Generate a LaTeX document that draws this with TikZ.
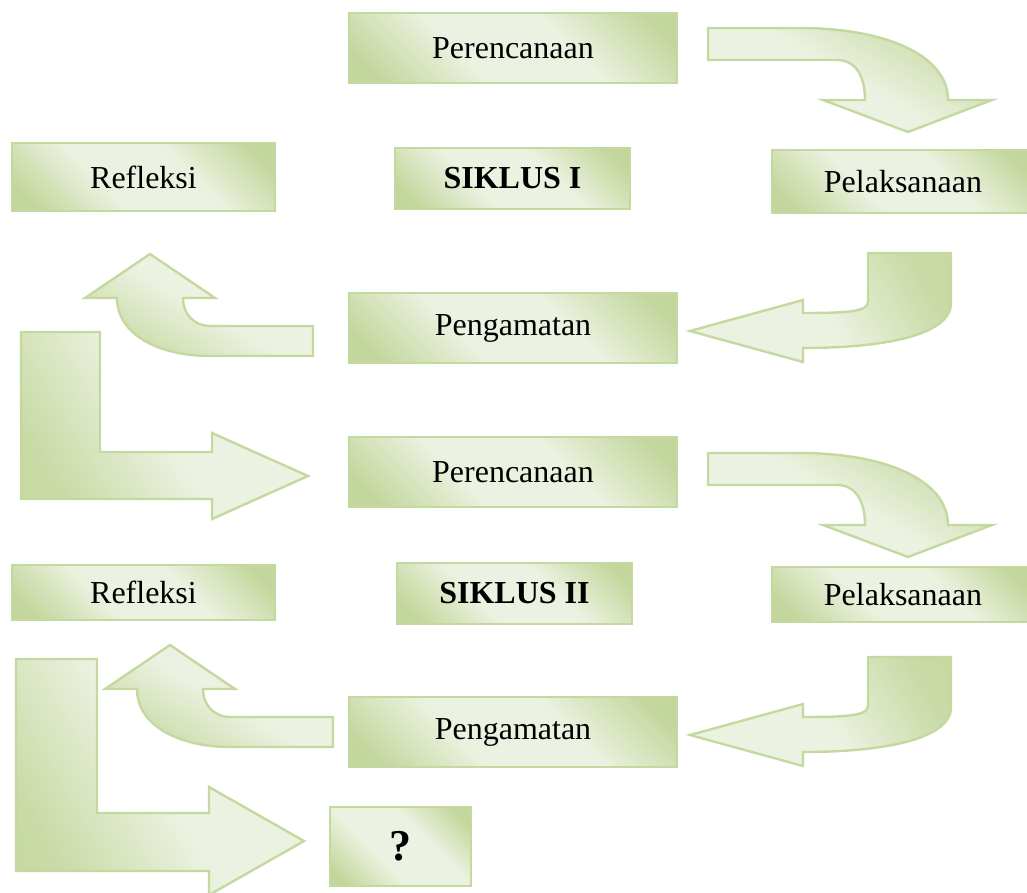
\documentclass[tikz,border=0pt]{standalone}
\usepackage{fontspec}
\setmainfont{Liberation Serif}
\definecolor{gL}{RGB}{236,242,225}
\definecolor{gD}{RGB}{195,214,155}
\definecolor{gB}{RGB}{196,217,160}
\pgfdeclarehorizontalshading{boxsh}{100bp}{color(0bp)=(gD); color(20bp)=(gD); color(40bp)=(gL); color(60bp)=(gL); color(80bp)=(gD); color(100bp)=(gD)}
\pgfdeclarehorizontalshading{arrsh}{100bp}{color(0bp)=(gD); color(25bp)=(gD!85!gL); color(50bp)=(gL); color(75bp)=(gL); color(100bp)=(gL)}
\tikzset{
  box/.style={draw=gB, line width=1.2pt, shading=boxsh, shading angle=45,
    inner sep=0pt, font=\fontsize{16}{19}\selectfont},
  blockarrow/.style={draw=gB, line width=1.2pt, shading=arrsh},
}
\begin{document}
\begin{tikzpicture}[x=0.5pt,y=-0.5pt]
\useasboundingbox (0,0) rectangle (1027,893);
% boxes
\node[box, minimum width={328*0.5pt}, minimum height={70*0.5pt}] (per1) at (513,48) {Perencanaan};
\node[box, minimum width={263*0.5pt}, minimum height={68*0.5pt}] (ref1) at (143.5,177) {Refleksi};
\node[box, minimum width={235*0.5pt}, minimum height={61*0.5pt}] (sik1) at (512.5,178.5) {\bfseries SIKLUS I};
\node[box, minimum width={262*0.5pt}, minimum height={63*0.5pt}] (pel1) at (903,181.5) {Pelaksanaan};
\node[box, minimum width={328*0.5pt}, minimum height={70*0.5pt}] (pen1) at (513,328) {Pengamatan};
\node[box, minimum width={328*0.5pt}, minimum height={70*0.5pt}] (per2) at (513,472) {Perencanaan};
\node[box, minimum width={263*0.5pt}, minimum height={55*0.5pt}] (ref2) at (143.5,592.5) {Refleksi};
\node[box, minimum width={235*0.5pt}, minimum height={61*0.5pt}] (sik2) at (514.5,593.5) {\bfseries SIKLUS II};
\node[box, minimum width={262*0.5pt}, minimum height={55*0.5pt}] (pel2) at (903,594.5) {Pelaksanaan};
\node[box, minimum width={328*0.5pt}, minimum height={70*0.5pt}] (pen2) at (513,732) {Pengamatan};
\node[box, minimum width={141*0.5pt}, minimum height={79*0.5pt}, font=\fontsize{22}{26}\selectfont\bfseries] (q) at (400.5,846.5) {?};
% curved arrow right-down (cycle I and II)
\foreach \dy in {0,425}{
\begin{scope}[shift={(0,\dy)}]
\shade[blockarrow, shading angle=-120] (708,28) -- (800,28) .. controls (885,28) and (948,55) .. (948,100)
  -- (992,100) -- (908,132) -- (823,100) -- (865,100)
  .. controls (865,75) and (855,60) .. (837,60) -- (708,60) -- cycle;
\end{scope}}
% hook arrow down-left
\foreach \dy in {0,404}{
\begin{scope}[shift={(0,\dy)}]
\shade[blockarrow, shading angle=-150] (868,253) -- (951,253) -- (951,303)
  .. controls (951,335) and (885,348) .. (803,348) -- (803,362) -- (690,331) -- (803,300) -- (803,313)
  .. controls (845,313) and (868,312) .. (868,302) -- cycle;
\end{scope}}
% curved arrow left-up
\shade[blockarrow, shading angle=60] (313,326) -- (210,326) .. controls (195,326) and (183,315) .. (183,298)
  -- (215,298) -- (150,254) -- (85,298) -- (117,298)
  .. controls (117,335) and (160,356) .. (210,356) -- (313,356) -- cycle;
\begin{scope}[shift={(20,391)}]
\shade[blockarrow, shading angle=60] (313,326) -- (210,326) .. controls (195,326) and (183,315) .. (183,298)
  -- (215,298) -- (150,254) -- (85,298) -- (117,298)
  .. controls (117,335) and (160,356) .. (210,356) -- (313,356) -- cycle;
\end{scope}
% L arrows
\shade[blockarrow, shading angle=30] (21,332) -- (100,332) -- (100,452) -- (212,452) -- (212,433) -- (308,476)
  -- (212,519) -- (212,499) -- (21,499) -- cycle;
\shade[blockarrow, shading angle=30] (16,659) -- (97,659) -- (97,813) -- (209,813) -- (209,787) -- (304,841)
  -- (209,895) -- (209,871) -- (16,871) -- cycle;
\end{tikzpicture}
\end{document}
